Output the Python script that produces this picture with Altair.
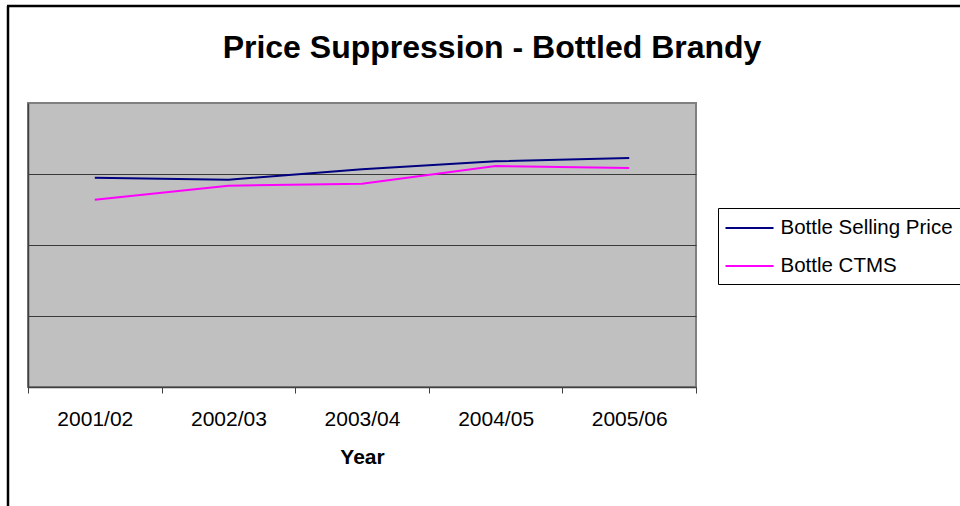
import altair as alt
import pandas as pd

years = ["2001/02", "2002/03", "2003/04", "2004/05", "2005/06"]
selling_price = [14.74, 14.60, 15.33, 15.89, 16.13]
ctms = [13.19, 14.18, 14.32, 15.56, 15.42]
series_names = ["Bottle Selling Price", "Bottle CTMS"]
series_colors = ["#000080", "#FF00FF"]
grid_values = [5, 10, 15]

rows = []
for name, vals in zip(series_names, [selling_price, ctms]):
    for y, v in zip(years, vals):
        rows.append({"Year": y, "Value": v, "Series": name})
df = pd.DataFrame(rows)

FONT = "Liberation Sans"

lines = alt.Chart(df).mark_line(strokeWidth=2).encode(
    x=alt.X(
        "Year:O",
        sort=years,
        scale=alt.Scale(type="band", paddingInner=0, paddingOuter=0),
        axis=alt.Axis(
            title="Year",
            titleFont=FONT, titleFontSize=21, titleFontWeight="bold", titleColor="black",
            titleBaseline="alphabetic", titleY=76, titleX=334, titleAlign="center",
            labelFont=FONT, labelFontSize=21, labelColor="black", labelAngle=0,
            labelBaseline="alphabetic", labelPadding=32,
            tickBand="extent", tickSize=6, tickColor="#404040", tickWidth=1,
            domainColor="#404040", domainWidth=1.5, grid=False,
        ),
    ),
    y=alt.Y(
        "Value:Q",
        scale=alt.Scale(domain=[0, 20], nice=False, zero=True),
        axis=alt.Axis(
            title=None, labels=False, ticks=False, values=grid_values,
            grid=True, gridColor="#3a3a3a", gridWidth=1.2,
            domainColor="#404040", domainWidth=1.5,
        ),
    ),
    color=alt.Color(
        "Series:N",
        sort=series_names,
        scale=alt.Scale(domain=series_names, range=series_colors),
        legend=alt.Legend(
            title=None, orient="none", legendX=690, legendY=105,
            labelFont=FONT, labelFontSize=20.5, labelColor="black", labelLimit=400,
            symbolType="M-2,0H2", symbolSize=576, symbolStrokeWidth=2,
            symbolOffset=11.5, labelOffset=18, rowPadding=14, padding=7,
            strokeColor="black", fillColor="white",
        ),
    ),
)

frame_df = pd.DataFrame({"k": [0]})
left_border = alt.Chart(frame_df).mark_rule(color="black", strokeWidth=2.5).encode(
    x=alt.value(-20), y=alt.value(-97), y2=alt.value(420)
)
top_border = alt.Chart(frame_df).mark_rule(color="black", strokeWidth=2.5).encode(
    x=alt.value(-21), x2=alt.value(950), y=alt.value(-97)
)

chart = alt.layer(lines, left_border, top_border).properties(
    width=668,
    height=284,
    autosize=alt.AutoSizeParams(type="none"),
    padding={"left": 28, "top": 103, "right": 264, "bottom": 119},
    background="white",
    title=alt.TitleParams(
        text="Price Suppression - Bottled Brandy",
        font=FONT, fontSize=32, fontWeight="bold", color="black",
        anchor="middle", frame="group", dx=130, dy=85, offset=0, baseline="alphabetic",
    ),
).configure_view(fill="#C0C0C0", stroke="#808080", strokeWidth=2)

chart.save("out.html", embed_options={"renderer": "svg", "actions": False})
